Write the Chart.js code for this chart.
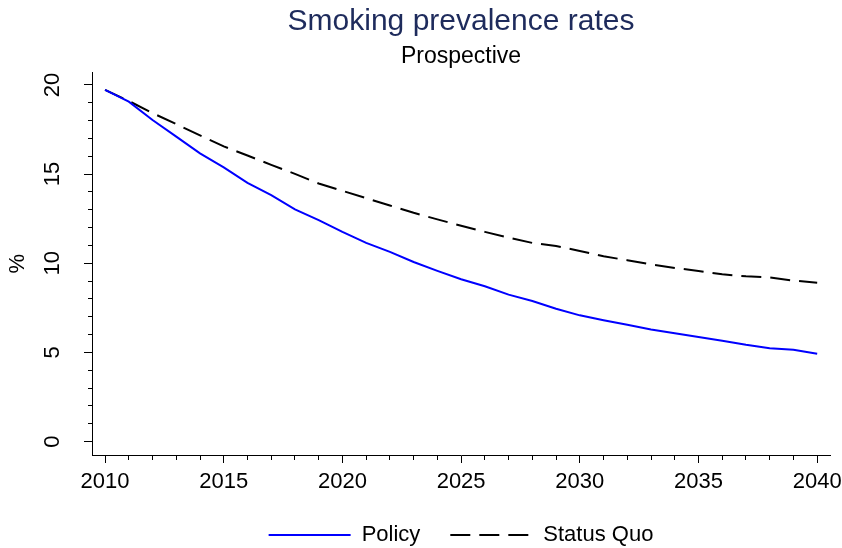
<!DOCTYPE html>
<html>
<head>
<meta charset="utf-8">
<title>Smoking prevalence rates</title>
<script src="https://cdn.jsdelivr.net/npm/chart.js@4.4.1/dist/chart.umd.min.js"></script>
<style>
  html, body { margin: 0; padding: 0; background: #fff; }
  #wrap { width: 842px; height: 548px; }
</style>
</head>
<body>
<div id="wrap"><canvas id="chart" width="842" height="548"></canvas></div>
<script>
// years 2010..2040
const years = [2010, 2011, 2012, 2013, 2014, 2015, 2016, 2017, 2018, 2019,
               2020, 2021, 2022, 2023, 2024, 2025, 2026, 2027, 2028, 2029,
               2030, 2031, 2032, 2033, 2034, 2035, 2036, 2037, 2038, 2039, 2040];

const policy = [19.72, 19.06, 18.03, 17.10, 16.16, 15.38, 14.51, 13.82, 13.02, 12.42,
                11.76, 11.14, 10.64, 10.07, 9.57, 9.10, 8.71, 8.24, 7.88, 7.45,
                7.08, 6.80, 6.55, 6.29, 6.07, 5.86, 5.66, 5.43, 5.24, 5.15, 4.93];

const statusQuo = [19.72, 19.10, 18.42, 17.80, 17.17, 16.55, 16.04, 15.52, 15.01, 14.47,
                   14.06, 13.65, 13.24, 12.83, 12.46, 12.10, 11.76, 11.44, 11.14, 10.97,
                   10.69, 10.39, 10.17, 9.94, 9.74, 9.57, 9.38, 9.27, 9.20, 9.03, 8.91];

const yTicks = [];
for (let v = 0; v <= 20; v++) yTicks.push(v);
const majorY = [0, 5, 10, 15, 20];
const majorX = [2010, 2015, 2020, 2025, 2030, 2035, 2040];

const FONT = "'Liberation Sans', Arial, sans-serif";

const toPoints = arr => arr.map((v, i) => ({ x: years[i], y: v }));

// legend swatches: take dash/width from the dataset, not from the point style
const legendLabels = chart => {
    const items = Chart.defaults.plugins.legend.labels.generateLabels(chart);
    items.forEach(it => {
        const ds = chart.data.datasets[it.datasetIndex];
        it.lineDash = ds.borderDash || [];
        it.lineWidth = ds.borderWidth;
        it.strokeStyle = ds.borderColor;
    });
    return items;
};

new Chart(document.getElementById('chart').getContext('2d'), {
    type: 'line',
    data: {
        datasets: [{
            label: 'Policy',
            data: toPoints(policy),
            borderColor: '#0000ff',
            backgroundColor: '#0000ff',
            borderWidth: 2,
            pointRadius: 0,
            tension: 0
        }, {
            label: 'Status Quo',
            data: toPoints(statusQuo),
            borderColor: '#000000',
            backgroundColor: '#000000',
            borderWidth: 2,
            borderDash: [20, 9],
            pointRadius: 0,
            tension: 0
        }]
    },
    options: {
        responsive: false,
        animation: false,
        devicePixelRatio: 1,
        layout: { padding: { left: 0, right: 12, top: 0, bottom: -8 } },
        plugins: {
            title: {
                display: true,
                text: 'Smoking prevalence rates',
                color: '#1e2b5c',
                fullSize: false,
                font: { family: FONT, size: 30, weight: 'normal' },
                padding: { top: 4, bottom: 0 }
            },
            subtitle: {
                display: true,
                text: 'Prospective',
                color: '#000',
                fullSize: false,
                font: { family: FONT, size: 23, weight: 'normal' },
                padding: { top: 3, bottom: 2 }
            },
            legend: {
                position: 'bottom',
                fullSize: false,
                labels: {
                    usePointStyle: true,
                    pointStyle: 'line',
                    pointStyleWidth: 82,
                    padding: 30,
                    color: '#000',
                    font: { family: FONT, size: 22 },
                    generateLabels: legendLabels
                }
            },
            tooltip: { enabled: false }
        },
        scales: {
            x: {
                type: 'linear',
                min: 2009.45,
                max: 2040.54,
                afterBuildTicks: s => { s.ticks = years.map(v => ({ value: v })); },
                afterFit: s => { s.height = 39; s.paddingLeft = 0; s.paddingRight = 0; },
                border: { display: true, color: '#000', width: 1 },
                grid: {
                    drawOnChartArea: false,
                    drawTicks: true,
                    tickLength: 8,
                    tickColor: '#000',
                    tickWidth: 1,
                    tickBorderDash: c => majorX.includes(c.tick.value) ? [] : [4, 100]
                },
                ticks: {
                    autoSkip: false,
                    maxRotation: 0,
                    minRotation: 0,
                    padding: 6,
                    color: '#000',
                    font: { family: FONT, size: 22 },
                    callback: v => majorX.includes(v) ? String(v) : ''
                }
            },
            y: {
                type: 'linear',
                min: -0.75,
                max: 20.69,
                afterBuildTicks: s => { s.ticks = yTicks.map(v => ({ value: v })); },
                afterFit: s => { s.width = 92; s.paddingTop = 0; s.paddingBottom = 0; },
                border: { display: true, color: '#000', width: 1 },
                grid: {
                    drawOnChartArea: false,
                    drawTicks: true,
                    tickLength: 8,
                    tickColor: '#000',
                    tickWidth: 1,
                    tickBorderDash: c => majorY.includes(c.tick.value) ? [] : [0, 4, 4, 100]
                },
                title: {
                    display: true,
                    text: '%',
                    color: '#000',
                    font: { family: FONT, size: 22 },
                    padding: { top: 5, bottom: 0 }
                },
                ticks: {
                    autoSkip: false,
                    minRotation: 90,
                    maxRotation: 90,
                    crossAlign: 'center',
                    padding: 19,
                    color: '#000',
                    font: { family: FONT, size: 22 },
                    callback: v => majorY.includes(v) ? String(v) : ''
                }
            }
        }
    }
});
</script>
</body>
</html>
